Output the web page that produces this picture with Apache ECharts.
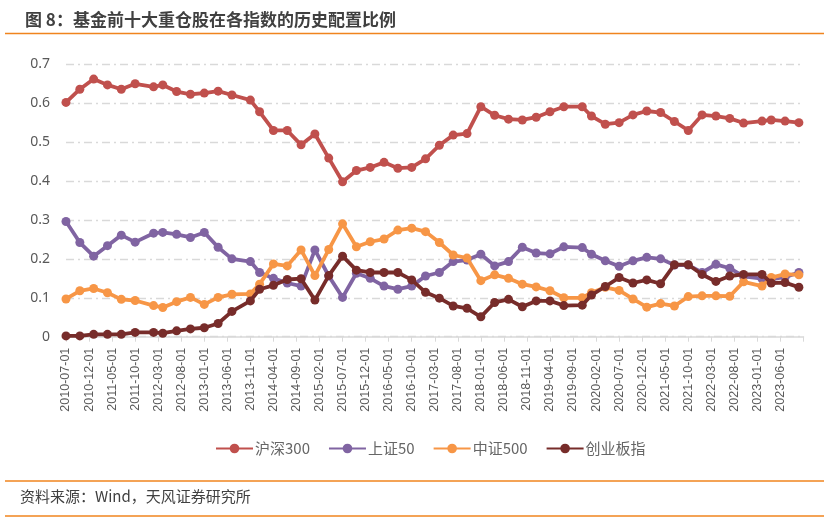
<!DOCTYPE html>
<html>
<head>
<meta charset="utf-8">
<script src="https://cdn.jsdelivr.net/npm/echarts@6/dist/echarts.min.js"></script>
<style>
html,body{margin:0;padding:0;background:#fff;}
#chart{width:829px;height:526px;}
</style>
</head>
<body>
<div id="chart"></div>
<script>
// Axis range (monthly categories)
const axisStart = '2010-07';
const axisEnd = '2023-11';

// Dates of the observations (year-month)
const pointDates = ['2010-07','2010-10','2011-01','2011-04','2011-07','2011-10','2012-02','2012-04','2012-07','2012-10',
  '2013-01','2013-04','2013-07','2013-11','2014-01','2014-04','2014-07','2014-10','2015-01','2015-04',
  '2015-07','2015-10','2016-01','2016-04','2016-07','2016-10','2017-01','2017-04','2017-07','2017-10',
  '2018-01','2018-04','2018-07','2018-10','2019-01','2019-04','2019-07','2019-11','2020-01','2020-04',
  '2020-07','2020-10','2021-01','2021-04','2021-07','2021-10','2022-01','2022-04','2022-07','2022-10',
  '2023-02','2023-04','2023-07','2023-10'];

const hs300 = [0.602,0.636,0.662,0.647,0.636,0.650,0.642,0.647,0.630,0.623,
  0.626,0.631,0.621,0.608,0.578,0.530,0.530,0.493,0.521,0.459,
  0.398,0.427,0.435,0.448,0.433,0.435,0.457,0.492,0.518,0.522,
  0.591,0.569,0.559,0.557,0.564,0.578,0.591,0.591,0.567,0.546,
  0.550,0.570,0.580,0.576,0.553,0.530,0.570,0.567,0.561,0.549,
  0.554,0.557,0.554,0.550];

const sz50 = [0.296,0.242,0.207,0.234,0.261,0.243,0.266,0.268,0.263,0.255,
  0.268,0.230,0.200,0.193,0.165,0.150,0.138,0.130,0.223,0.156,
  0.101,0.163,0.150,0.130,0.122,0.130,0.156,0.165,0.193,0.197,
  0.212,0.182,0.193,0.230,0.215,0.213,0.231,0.229,0.212,0.195,
  0.181,0.195,0.204,0.200,0.184,0.184,0.165,0.186,0.176,0.155,
  0.149,0.148,0.153,0.165];

const zz500 = [0.097,0.118,0.124,0.113,0.096,0.093,0.080,0.075,0.090,0.101,
  0.083,0.101,0.109,0.110,0.135,0.187,0.182,0.223,0.157,0.224,
  0.290,0.231,0.244,0.251,0.274,0.279,0.270,0.242,0.210,0.202,
  0.144,0.159,0.150,0.135,0.128,0.118,0.100,0.100,0.113,0.127,
  0.119,0.097,0.076,0.085,0.079,0.103,0.105,0.105,0.104,0.141,
  0.130,0.152,0.161,0.159];

const cyb = [0.002,0.002,0.006,0.006,0.006,0.011,0.011,0.009,0.015,0.020,
  0.023,0.034,0.065,0.092,0.122,0.132,0.147,0.149,0.094,0.157,
  0.207,0.171,0.165,0.165,0.165,0.146,0.114,0.099,0.079,0.073,
  0.051,0.088,0.096,0.077,0.092,0.092,0.080,0.081,0.107,0.129,
  0.152,0.138,0.146,0.136,0.185,0.185,0.160,0.142,0.156,0.160,
  0.160,0.138,0.139,0.127];

const seriesNames = ['沪深300','上证50','中证500','创业板指'];
const seriesColors = ['#C0504D','#8064A2','#F79646','#772C2A'];
const yTicks = [0,0.1,0.2,0.3,0.4,0.5,0.6,0.7];
const titleText = '图 8：基金前十大重仓股在各指数的历史配置比例';
const sourceText = '资料来源：Wind，天风证券研究所';

// build monthly category list
const months = [];
(function(){
  let [y,m] = axisStart.split('-').map(Number);
  const [ey,em] = axisEnd.split('-').map(Number);
  while (y < ey || (y === ey && m <= em)) {
    months.push(y + '-' + String(m).padStart(2,'0') + '-01');
    m++; if (m > 12) { m = 1; y++; }
  }
})();
const lastIdx = months.length - 1;

function toData(vals){
  return pointDates.map((d,i)=>[months.indexOf(d + '-01'), vals[i]]);
}
const allVals = [hs300, sz50, zz500, cyb];

const chart = echarts.init(document.getElementById('chart'));
const orange = '#F0841E';
chart.setOption({
  backgroundColor: '#fff',
  animation: false,
  title: {
    text: titleText,
    left: 20, top: 6,
    textStyle: {fontFamily: 'Noto Sans CJK SC', fontSize: 17, fontWeight: 'bold', color: '#404040'}
  },
  graphic: [
    {type:'line', shape:{x1:5,y1:33.5,x2:824,y2:33.5}, style:{stroke:orange, lineWidth:1.5}},
    {type:'line', shape:{x1:5,y1:481,x2:824,y2:481}, style:{stroke:orange, lineWidth:1.5}},
    {type:'line', shape:{x1:5,y1:516,x2:824,y2:516}, style:{stroke:orange, lineWidth:1.5}},
    {type:'text', left:20, top:489, style:{text:sourceText, fill:'#404040', font:'15px "Noto Sans CJK SC"'}}
  ],
  legend: {
    data: seriesNames,
    top: 436,
    left: 210,
    itemWidth: 37,
    itemHeight: 12,
    itemGap: 18,
    textStyle: {fontFamily: 'Noto Sans CJK SC', fontSize: 15, color: '#666666', padding:[0,0,0,-3]}
  },
  grid: {left: 66, right: 25.5, top: 64.3, bottom: 189.3, containLabel: false},
  xAxis: {
    type: 'category',
    data: months,
    boundaryGap: false,
    axisLine: {lineStyle: {color: '#d9d9d9', width: 1.5}},
    axisTick: {show: true, interval: (i)=> i % 5 === 0 || i === lastIdx, length: 5, lineStyle:{color:'#d9d9d9'}},
    axisLabel: {
      interval: (i)=> i % 5 === 0 && i < lastIdx,
      rotate: 90,
      fontFamily: 'Liberation Sans',
      fontSize: 12.5,
      color: '#595959',
      margin: 11
    }
  },
  yAxis: {
    type: 'value',
    min: 0, max: 0.7, interval: 0.1,
    axisLine: {show: false},
    axisTick: {show: false},
    axisLabel: {
      fontFamily: 'Noto Sans', fontSize: 14, color: '#595959', margin: 16,
      formatter: (v)=> { const t = yTicks.find(x=>Math.abs(x-v)<1e-9); return String(t !== undefined ? t : v); }
    },
    splitLine: {lineStyle: {color: '#d9d9d9', width: 1.3, type: [8,4,2,4]}}
  },
  series: seriesNames.map((n,k)=>({
    name: n,
    type: 'line',
    data: toData(allVals[k]),
    color: seriesColors[k],
    lineStyle: {width: 3.8, color: seriesColors[k]},
    itemStyle: {color: seriesColors[k]},
    symbol: 'circle',
    symbolSize: 9,
    showSymbol: true,
    showAllSymbol: true,
    z: 2 + k
  }))
});
</script>
</body>
</html>
